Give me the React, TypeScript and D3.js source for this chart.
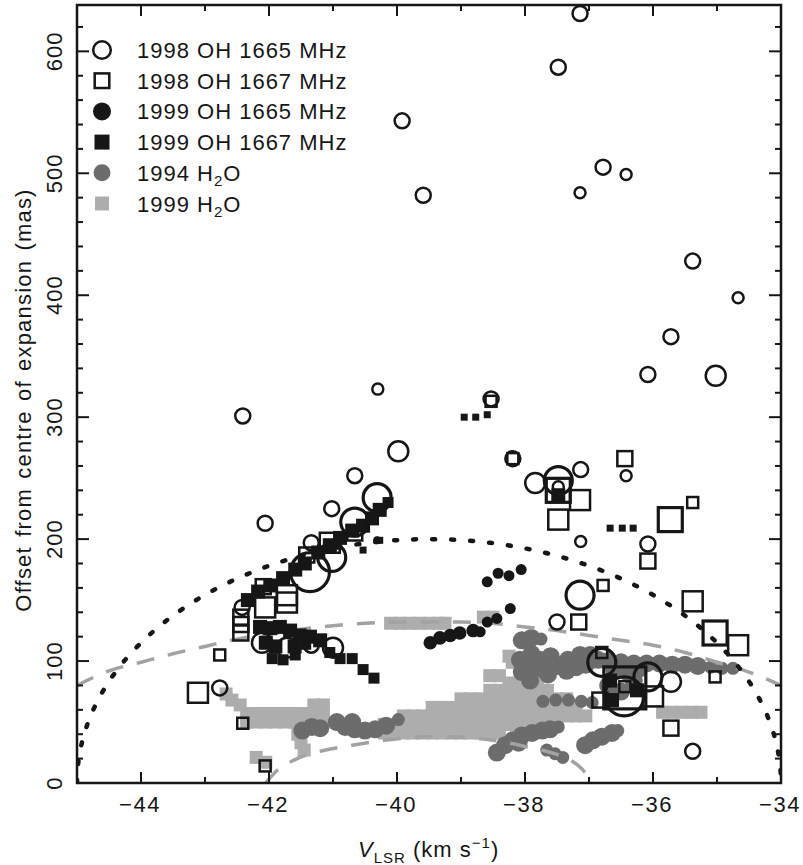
import React from 'react';
import * as d3 from 'd3';

// ---- data (velocity km/s, offset mas, flux class) ----
const oh1665y1998: [number, number, number][] = [
  [-37.14, 631, 2], [-37.48, 587, 2], [-39.92, 543, 2], [-39.59, 482, 2], [-36.78, 505, 2],
  [-36.42, 499, 1], [-37.14, 484, 1], [-35.38, 428, 2], [-34.67, 398, 1], [-35.72, 366, 2],
  [-36.08, 335, 2], [-35.02, 334, 3], [-42.41, 301, 2], [-40.3, 323, 1], [-39.98, 272, 3],
  [-42.06, 213, 2], [-40.66, 252, 2], [-41.02, 225, 2], [-40.31, 234, 4], [-40.66, 214, 4],
  [-41.34, 197, 2], [-41.36, 173, 5], [-41.02, 185, 4], [-38.53, 315, 2], [-38.19, 266, 2],
  [-37.84, 246, 3], [-37.48, 248, 4], [-37.48, 243, 1], [-37.13, 257, 2], [-36.42, 252, 1],
  [-37.13, 198, 1], [-36.08, 196, 2], [-37.14, 154, 4], [-37.5, 132, 2], [-36.8, 99, 4],
  [-36.45, 71, 5], [-36.08, 87, 4], [-35.72, 83, 3], [-35.38, 26, 2], [-42.42, 144, 2],
  [-42.77, 78, 2], [-42.11, 115, 3], [-41.72, 111, 3], [-41.34, 113, 2], [-41.0, 111, 3],
];

const oh1667y1998: [number, number, number][] = [
  [-38.53, 313, 1], [-38.19, 266, 1], [-37.48, 240, 4], [-37.14, 232, 3], [-37.48, 216, 3],
  [-36.44, 266, 2], [-35.38, 230, 1], [-35.73, 216, 4], [-36.08, 182, 2], [-36.78, 162, 1],
  [-35.38, 149, 3], [-35.03, 123, 4], [-34.67, 113, 3], [-37.16, 132, 2], [-36.8, 107, 1],
  [-36.44, 79, 1], [-36.44, 78, 5], [-36.83, 68, 2], [-36.0, 71, 3], [-35.03, 87, 1],
  [-35.72, 45, 2], [-43.11, 74, 3], [-42.77, 105, 1], [-42.41, 49, 1], [-42.06, 14, 1],
  [-42.44, 136, 2], [-42.44, 130, 2], [-42.44, 123, 2], [-42.06, 144, 3], [-41.72, 148, 3],
  [-42.09, 161, 2], [-41.72, 154, 3], [-41.41, 187, 2], [-41.05, 197, 3], [-40.66, 205, 2],
];

const oh1665y1999: [number, number, number][] = [
  [-39.48, 115, 3], [-39.33, 119, 3], [-39.17, 121, 3], [-39.02, 123, 3], [-38.81, 125, 3],
  [-38.7, 124, 2], [-38.59, 132, 2], [-38.44, 135, 2], [-38.23, 143, 2], [-38.59, 165, 2],
  [-38.42, 172, 2], [-38.25, 170, 2], [-38.06, 175, 2], [-40.31, 199, 1],
];

const oh1667y1999: [number, number, number][] = [
  [-42.33, 150, 3], [-42.17, 157, 3], [-41.98, 162, 3], [-41.78, 168, 3], [-41.59, 175, 3],
  [-41.44, 180, 3], [-41.23, 189, 3], [-41.05, 195, 3], [-40.89, 201, 3], [-40.7, 207, 3],
  [-40.53, 211, 3], [-40.39, 217, 3], [-40.27, 224, 3], [-40.14, 230, 2], [-40.53, 191, 1],
  [-40.27, 199, 1],
  [-42.14, 128, 3], [-41.98, 127, 3], [-41.83, 128, 3], [-41.67, 125, 3], [-41.52, 121, 3],
  [-41.36, 120, 3], [-41.2, 117, 3], [-41.05, 107, 2], [-40.89, 102, 2], [-40.7, 102, 2],
  [-40.53, 93, 2], [-40.36, 86, 2], [-41.95, 102, 2], [-41.78, 101, 2], [-41.59, 105, 2],
  [-42.05, 115, 3], [-41.9, 112, 3], [-41.6, 112, 3], [-41.45, 115, 3],
  [-38.95, 300, 1], [-38.77, 300, 1], [-38.59, 302, 1],
  [-36.67, 209, 1], [-36.48, 209, 1], [-36.31, 209, 1],
  [-36.67, 84, 3], [-36.25, 76, 3], [-36.64, 68, 3], [-37.48, 236, 3],
];

// 1994 water masers (velocity, offset, size class)
const h2o1994: [number, number, number][] = [
  [-41.48, 43, 2], [-41.33, 46, 2], [-41.2, 45, 2],
  [-40.94, 50, 2], [-40.81, 46, 2], [-40.66, 44, 2], [-40.5, 43, 2], [-40.34, 44, 2], [-40.17, 47, 2], [-40.7, 50, 2],
  [-39.98, 52, 1],
  [-38.44, 25, 2], [-38.31, 31, 2], [-38.19, 35, 2], [-38.05, 39, 2], [-37.89, 41, 2], [-37.73, 43, 2],
  [-37.61, 44, 2], [-37.48, 46, 1], [-38.1, 33, 2],
  [-37.66, 27, 1], [-37.53, 24, 1], [-37.41, 21, 1],
  [-37.06, 31, 2], [-36.94, 35, 2], [-36.8, 38, 2], [-36.64, 41, 2], [-36.55, 43, 1],
  [-38.05, 117, 2], [-37.9, 119, 2], [-37.75, 118, 1],
  [-38.08, 101, 2], [-38.05, 91, 2], [-37.89, 94, 2], [-37.77, 101, 2], [-37.64, 89, 2], [-37.48, 96, 2],
  [-37.33, 101, 2], [-37.14, 105, 2], [-36.98, 105, 2], [-36.86, 101, 2], [-37.92, 84, 2], [-37.6, 104, 2],
  [-37.2, 95, 2], [-37.75, 94, 2], [-37.35, 92, 2], [-37.05, 97, 2], [-37.9, 106, 2],
  [-36.7, 100, 2], [-36.5, 99, 2], [-36.3, 98, 2], [-36.1, 98, 2], [-35.9, 98, 2], [-35.7, 97, 2],
  [-35.5, 97, 2], [-35.3, 96, 2], [-35.1, 95, 1], [-34.92, 94, 1], [-34.75, 94, 1],
  [-36.6, 92, 2], [-36.4, 91, 2], [-36.2, 92, 1],
  [-37.72, 67, 1], [-37.52, 68, 1], [-37.32, 68, 1], [-37.12, 67, 1], [-36.95, 66, 1],
  [-36.7, 80, 2], [-36.5, 75, 2], [-36.3, 84, 2],
];

// 1999 water masers, grouped by offset row: [offset, velocities]
const h2o1999Rows: [number, number[]][] = [
  [41, [-40.2, -40.05, -39.9, -39.75, -39.6, -39.45, -39.3, -39.15, -39.0, -38.85, -38.7, -38.55, -38.4]],
  [48, [-40.2, -40.05, -39.9, -39.75, -39.6, -39.45, -39.3, -39.15, -39.0, -38.85, -38.7, -38.55, -38.4,
        -38.25, -38.1, -37.95, -37.8, -37.65, -37.5]],
  [55, [-39.9, -39.75, -39.6, -39.45, -39.3, -39.15, -39.0, -38.85, -38.7, -38.55, -38.4, -38.25, -38.1,
        -37.95, -37.8, -37.65, -37.5, -37.35, -37.2, -37.05]],
  [62, [-39.45, -39.3, -39.15, -39.0, -38.85, -38.7, -38.55, -38.4, -38.25, -38.1, -37.95, -37.8, -37.65,
        -37.5, -37.35, -37.2]],
  [69, [-39.0, -38.85, -38.7, -38.55, -38.4, -38.25, -38.1, -37.95, -37.8, -37.65, -37.5, -37.35]],
  [76, [-38.55, -38.4, -38.25, -38.1, -37.95, -37.8, -37.65]],
  [82, [-38.25, -38.1, -37.95, -37.8]],
  [88, [-38.55, -38.4]],
  [99, [-37.65, -37.55, -38.2]],
  [104, [-38.25]],
  [73, [-42.67]], [68, [-42.58]], [64, [-42.45, -41.3, -41.15]],
  [57, [-42.35, -42.2, -42.05, -41.9, -41.75, -41.6, -41.45, -41.3, -41.15]],
  [50, [-42.35, -42.2, -42.05, -41.9, -41.75, -41.6, -41.45, -41.3, -41.15]],
  [40, [-41.55]], [33, [-41.5]], [27, [-41.45]],
  [21, [-42.2]], [17, [-42.05]],
  [131, [-40.1, -39.95, -39.8, -39.65, -39.5, -39.35, -39.25]],
  [136, [-38.65, -38.5]],
  [58, [-35.85, -35.7, -35.55, -35.4, -35.25]],
];

// projected ring (dashed grey)
const ringUpper: [number, number][] = [
  [-45, 80], [-44.5, 92], [-44, 99], [-43.5, 106], [-43, 112], [-42.5, 118], [-42, 122],
  [-41.5, 126], [-41, 129], [-40.5, 131], [-40, 132], [-39.5, 132], [-39, 132], [-38.5, 131],
  [-38, 128], [-37.5, 125], [-37, 121], [-36.5, 117], [-36, 113], [-35.5, 107], [-35, 99],
  [-34.5, 91], [-34, 80],
];
const ringLower: [number, number][] = [
  [-42.05, 0], [-41.9, 9], [-41.6, 19], [-41.2, 26], [-40.7, 31], [-40.2, 35], [-39.5, 38],
  [-39, 37.5], [-38.5, 35], [-38, 30], [-37.6, 25], [-37.3, 19], [-37.1, 11], [-36.95, 0],
];

// spherical shell model (dotted black)
const shellCentre = -39.5;
const shellHalfWidth = 5.5;
const shellPeak = 200;

const W = 803;
const H = 865;
const margin = { top: 5, right: 22, bottom: 82, left: 77 };
const font = "'Liberation Sans', Arial, Helvetica, sans-serif";
const ink = '#161616';
const darkGrey = '#6c6c6c';
const lightGrey = '#adadad';

export default function App() {
  const x = d3.scaleLinear().domain([-45, -34]).range([margin.left, W - margin.right]);
  const y = d3.scaleLinear().domain([0, 638]).range([H - margin.bottom, margin.top]);

  const circleR = d3.scaleOrdinal<number, number>().domain([1, 2, 3, 4, 5]).range([5.5, 7.5, 10, 14, 19.5]);
  const squareHalf = d3.scaleOrdinal<number, number>().domain([1, 2, 3, 4, 5]).range([5.5, 7.5, 10, 12, 21]);
  const dotR = d3.scaleOrdinal<number, number>().domain([1, 2, 3]).range([4, 5.5, 6.8]);
  const blockHalf = d3.scaleOrdinal<number, number>().domain([1, 2, 3]).range([3.5, 5.5, 7]);
  const waterR = d3.scaleOrdinal<number, number>().domain([1, 2]).range([6.5, 9]);

  const line = d3.line<[number, number]>().x(d => x(d[0])).y(d => y(d[1])).curve(d3.curveMonotoneX);
  const shell: [number, number][] = d3.range(0, 181, 2).map(deg => {
    const a = (deg * Math.PI) / 180;
    return [shellCentre - shellHalfWidth * Math.cos(a), shellPeak * Math.sin(a)];
  });
  const shellLine = d3.line<[number, number]>().x(d => x(d[0])).y(d => y(d[1]));

  const h2o1999 = h2o1999Rows.flatMap(([off, vs]) => vs.map(v => [v, off] as [number, number]));

  const xMajor = x.ticks(6);
  const xMinor = x.ticks(11);
  const yMajor = y.ticks(7);
  const yMinor = y.ticks(30);
  const [x0, x1] = x.range();
  const [y0, y1] = y.range();

  const legendRows = [
    { label: '1998 OH 1665 MHz', kind: 'openCircle' },
    { label: '1998 OH 1667 MHz', kind: 'openSquare' },
    { label: '1999 OH 1665 MHz', kind: 'fillCircle' },
    { label: '1999 OH 1667 MHz', kind: 'fillSquare' },
    { label: '1994 H', kind: 'greyCircle' },
    { label: '1999 H', kind: 'greySquare' },
  ];

  return (
    <svg width={W} height={H} style={{ position: 'absolute', left: 0, top: 0, background: '#fff' }}
      fontFamily={font}>
      <defs>
        <clipPath id="plot">
          <rect x={x0} y={y1} width={x1 - x0} height={y0 - y1} />
        </clipPath>
      </defs>
      <g clipPath="url(#plot)">
        {h2o1999.map((d, i) => (
          <rect key={'l' + i} x={x(d[0]) - 6.5} y={y(d[1]) - 6.5} width={13} height={13} fill={lightGrey} />
        ))}
        {h2o1994.map((d, i) => (
          <circle key={'g' + i} cx={x(d[0])} cy={y(d[1])} r={waterR(d[2])} fill={darkGrey} />
        ))}
        <path d={line(ringUpper) || ''} fill="none" stroke="#a2a2a2" strokeWidth={3.5} strokeDasharray="18 14" />
        <path d={line(ringLower) || ''} fill="none" stroke="#a2a2a2" strokeWidth={3.5} strokeDasharray="18 14" />
        <path d={shellLine(shell) || ''} fill="none" stroke={ink} strokeWidth={4.5}
          strokeDasharray="3 16" strokeLinecap="round" />
        {oh1665y1999.map((d, i) => (
          <circle key={'fc' + i} cx={x(d[0])} cy={y(d[1])} r={dotR(d[2])} fill={ink} />
        ))}
        {oh1667y1999.map((d, i) => {
          const h = blockHalf(d[2]);
          return <rect key={'fs' + i} x={x(d[0]) - h} y={y(d[1]) - h} width={2 * h} height={2 * h} fill={ink} />;
        })}
        {oh1665y1998.map((d, i) => (
          <circle key={'oc' + i} cx={x(d[0])} cy={y(d[1])} r={circleR(d[2])} fill="none" stroke={ink}
            strokeWidth={d[2] >= 4 ? 3.2 : 2.5} />
        ))}
        {oh1667y1998.map((d, i) => {
          const h = squareHalf(d[2]);
          return <rect key={'os' + i} x={x(d[0]) - h} y={y(d[1]) - h} width={2 * h} height={2 * h} fill="none"
            stroke={ink} strokeWidth={d[2] >= 4 ? 3.2 : 2.5} />;
        })}
      </g>

      {/* frame and ticks */}
      <rect x={x0} y={y1} width={x1 - x0} height={y0 - y1} fill="none" stroke={ink} strokeWidth={2.5} />
      {xMinor.map(t => {
        const len = xMajor.includes(t) ? 11 : 6;
        return (
          <g key={'xt' + t} stroke={ink} strokeWidth={2}>
            <line x1={x(t)} x2={x(t)} y1={y0} y2={y0 - len} />
            <line x1={x(t)} x2={x(t)} y1={y1} y2={y1 + len} />
          </g>
        );
      })}
      {yMinor.map(t => {
        const len = yMajor.includes(t) ? 12 : 6;
        return (
          <g key={'yt' + t} stroke={ink} strokeWidth={2}>
            <line x1={x0} x2={x0 + len} y1={y(t)} y2={y(t)} />
            <line x1={x1} x2={x1 - len} y1={y(t)} y2={y(t)} />
          </g>
        );
      })}
      {xMajor.map(t => (
        <text key={'xl' + t} x={x(t) - 1} y={y0 + 29} textAnchor="middle" fontSize={22} letterSpacing={1.5}
          fill={ink}>{'\u2212' + Math.abs(t)}</text>
      ))}
      {yMajor.map(t => (
        <text key={'yl' + t} transform={`translate(${x0 - 15},${y(t)}) rotate(-90)`} textAnchor="middle"
          fontSize={22} letterSpacing={1} fill={ink}>{t}</text>
      ))}
      <text transform={`translate(31,400) rotate(-90)`} textAnchor="middle" fontSize={22} letterSpacing={1.2}
        wordSpacing={2} fill={ink}>Offset from centre of expansion (mas)</text>
      <text x={358} y={857} fontSize={22} letterSpacing={1} fill={ink}>
        <tspan fontStyle="italic">V</tspan>
        <tspan dy={6} fontSize={15}>LSR</tspan>
        <tspan dy={-6}>{' (km s'}</tspan>
        <tspan dy={-9} fontSize={15}>{'\u22121'}</tspan>
        <tspan dy={9}>)</tspan>
      </text>

      {/* legend */}
      {legendRows.map((r, i) => {
        const cy = 50 + i * 30.7;
        const cx = 102;
        let mark: React.ReactNode = null;
        if (r.kind === 'openCircle') mark = <circle cx={cx} cy={cy} r={8.8} fill="none" stroke={ink} strokeWidth={2.5} />;
        if (r.kind === 'openSquare') mark = <rect x={cx - 7.3} y={cy - 7.3} width={14.6} height={14.6} fill="none" stroke={ink} strokeWidth={2.5} />;
        if (r.kind === 'fillCircle') mark = <circle cx={cx} cy={cy} r={9} fill={ink} />;
        if (r.kind === 'fillSquare') mark = <rect x={cx - 7.5} y={cy - 7.5} width={15} height={15} fill={ink} />;
        if (r.kind === 'greyCircle') mark = <circle cx={cx} cy={cy} r={8.5} fill={darkGrey} />;
        if (r.kind === 'greySquare') mark = <rect x={cx - 7} y={cy - 7} width={14} height={14} fill={lightGrey} />;
        const water = r.kind === 'greyCircle' || r.kind === 'greySquare';
        return (
          <g key={'lg' + i}>
            {mark}
            <text x={137} y={cy + 8} fontSize={22} letterSpacing={1} fill={ink}>
              {r.label}
              {water && <tspan dy={5} fontSize={15}>2</tspan>}
              {water && <tspan dy={-5}>O</tspan>}
            </text>
          </g>
        );
      })}
    </svg>
  );
}
